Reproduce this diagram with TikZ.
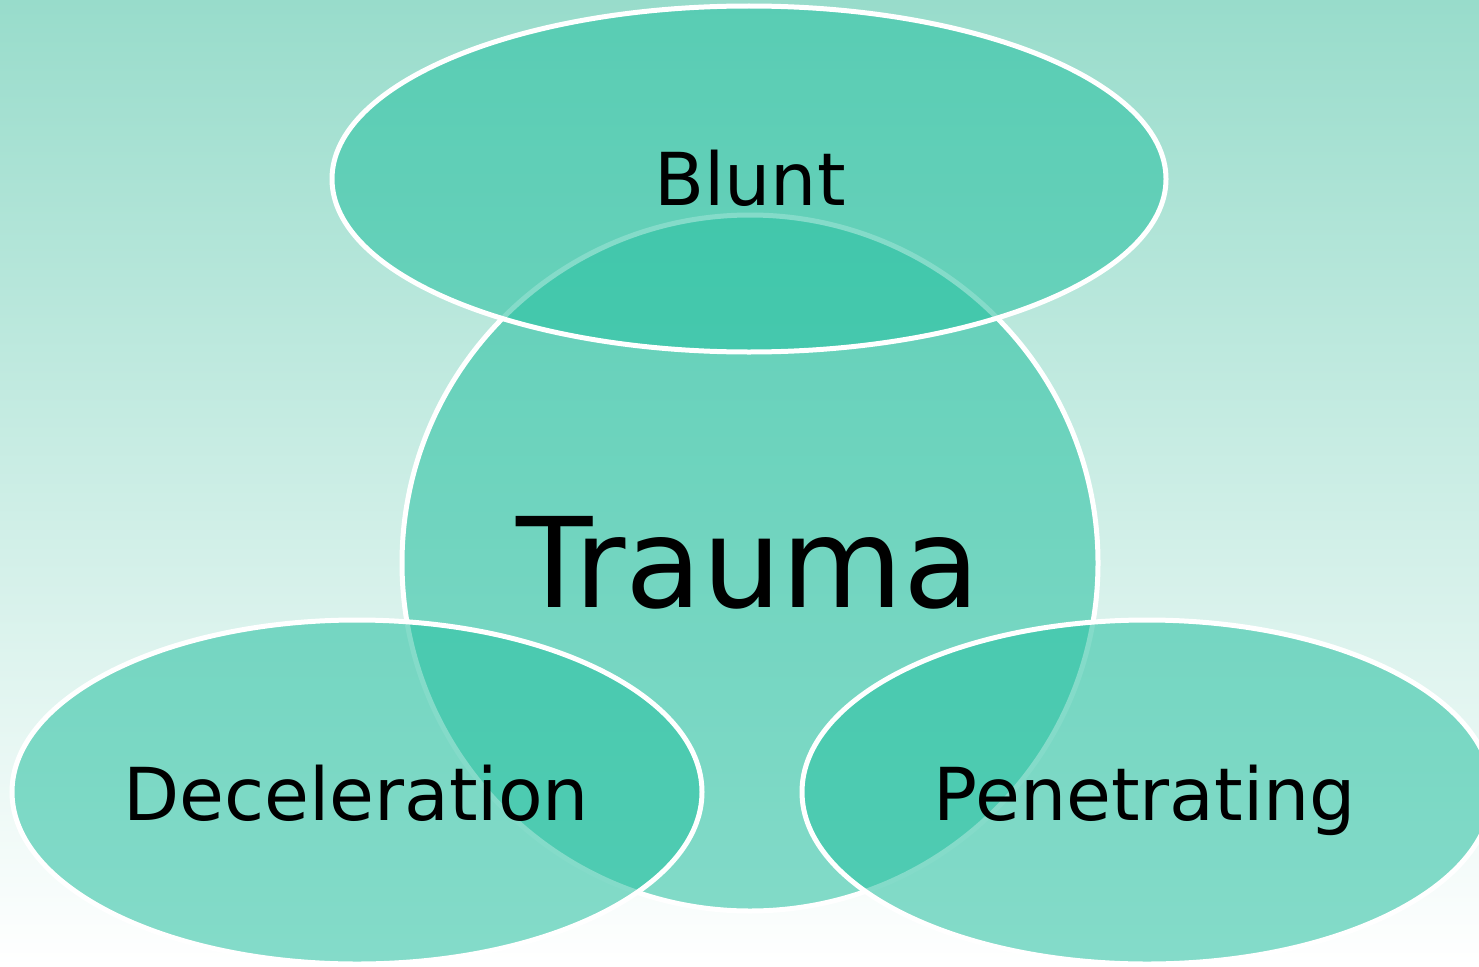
\documentclass[tikz,border=0pt]{standalone}
\usepackage{fontspec}
\setmainfont{DejaVu Sans}
\usetikzlibrary{shapes.geometric}
\definecolor{bgtop}{RGB}{152,220,203}
\definecolor{venn}{RGB}{44,194,163}
\tikzset{
  vennshape/.style={draw=white, line width=5pt, fill=venn, fill opacity=0.58,
    draw opacity=1, inner sep=0pt, text opacity=1},
  bigcircle/.style={vennshape, circle, minimum size=696pt},
  vennoval/.style={vennshape, ellipse, minimum width=690pt, minimum height=344pt},
  label/.style={anchor=base, text=black, inner sep=0pt},
}
\begin{document}
\begin{tikzpicture}[x=1pt, y=-1pt]
  % backdrop
  \shade[top color=bgtop, bottom color=white] (0,0) rectangle (1479,966);
  \useasboundingbox (0,0) rectangle (1479,966);
  % centre circle and the three ovals laid over it
  \node[bigcircle] (trauma) at (750,563) {};
  \node[vennoval, minimum width=834pt, minimum height=346pt] (blunt) at (749,179) {};
  \node[vennoval] (decel) at (357,792) {};
  \node[vennoval] (penet) at (1147,792) {};
  % labels
  \node[label, font=\fontsize{125}{145}\selectfont] (ttrauma) at (748,607) {Trauma};
  \node[label, font=\fontsize{73}{88}\selectfont] (tblunt) at (750,205) {Blunt};
  \node[label, font=\fontsize{73}{88}\selectfont] (tdecel) at (356,820) {Deceleration};
  \node[label, font=\fontsize{73}{88}\selectfont] (tpenet) at (1145,820) {Penetrating};
\end{tikzpicture}
\end{document}
